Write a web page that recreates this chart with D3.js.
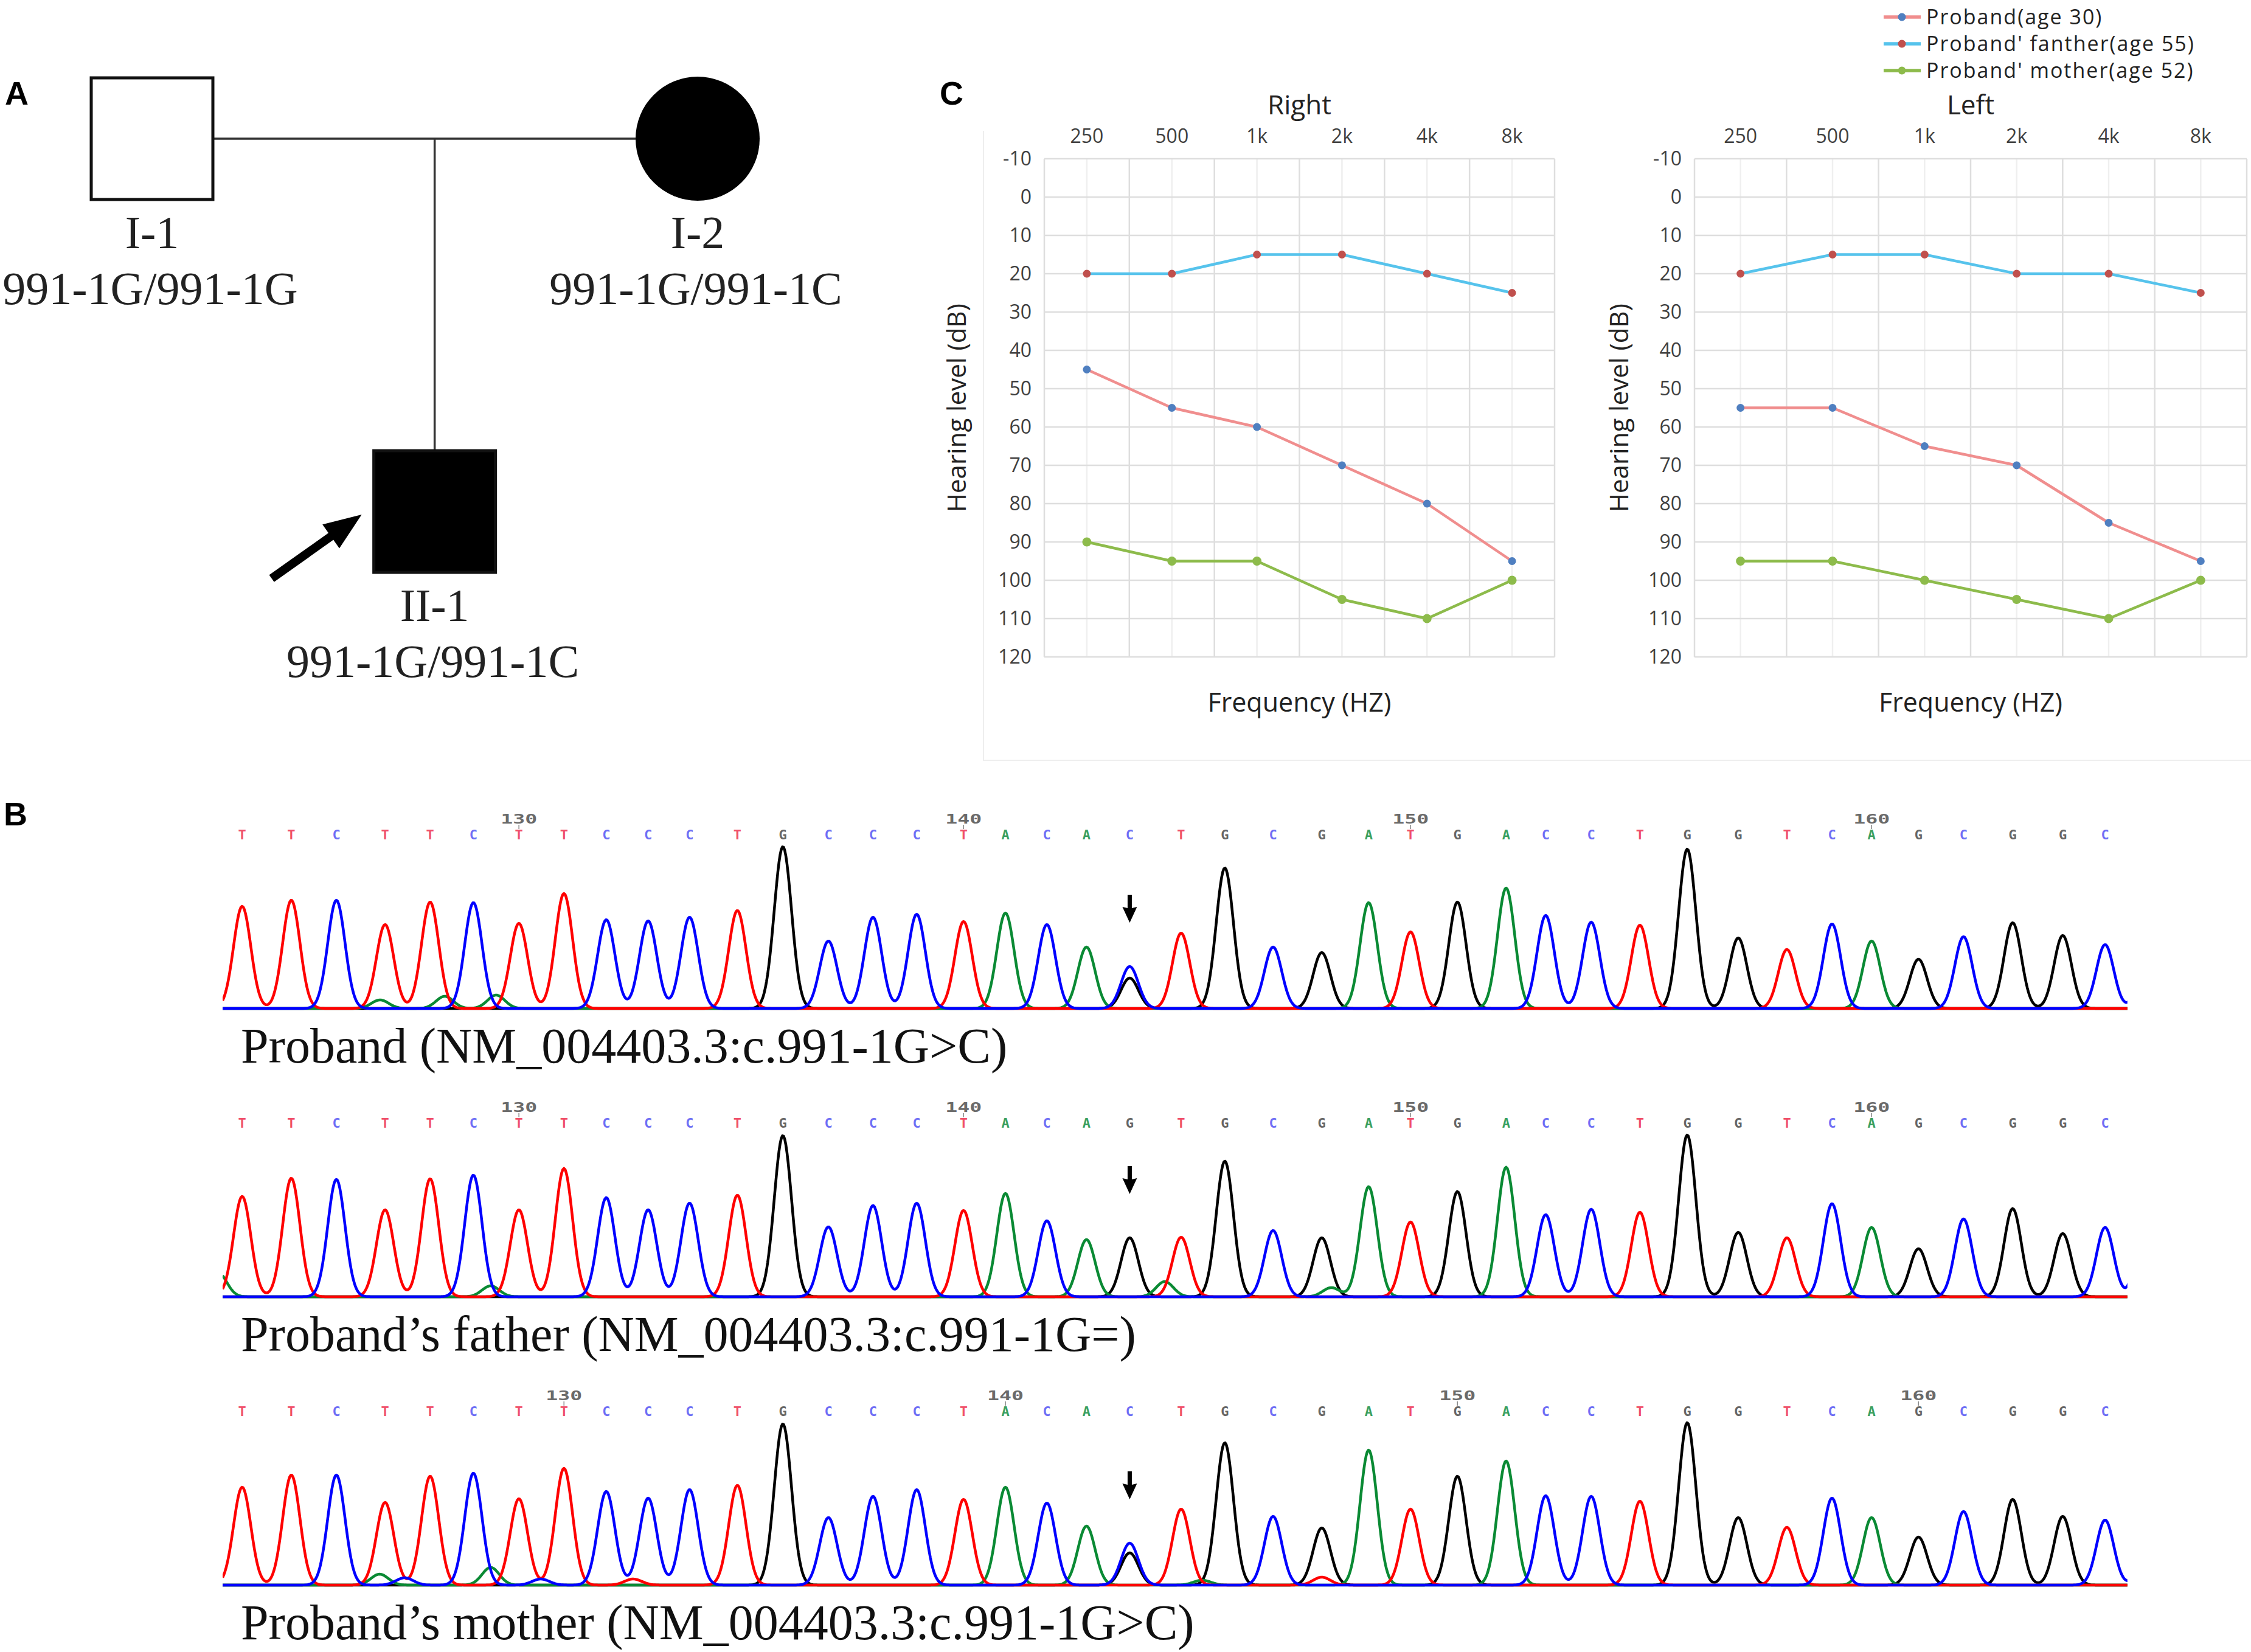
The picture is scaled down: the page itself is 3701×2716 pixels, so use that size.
<!DOCTYPE html>
<html>
<head>
<meta charset="utf-8">
<script src="https://cdn.jsdelivr.net/npm/d3@7"></script>
<style>
  body { margin: 0; background: #fff; }
</style>
</head>
<body>
<svg id="fig"></svg>
<script>
// ---------------------- data ---------------------------
// audiogram (panel C)
const freqs = ["250", "500", "1k", "2k", "4k", "8k"];
const dbTicks = d3.range(-10, 121, 10);
const seriesNames = ["Proband(age 30)", "Proband' fanther(age 55)", "Proband' mother(age 52)"];
const rightProband = [45, 55, 60, 70, 80, 95];
const rightFather  = [20, 20, 15, 15, 20, 25];
const rightMother  = [90, 95, 95, 105, 110, 100];
const leftProband  = [55, 55, 65, 70, 85, 95];
const leftFather   = [20, 15, 15, 20, 20, 25];
const leftMother   = [95, 95, 100, 105, 110, 100];

// pedigree (panel A)
const people     = ["I-1", "I-2", "II-1"];
const genotypes  = ["991-1G/991-1G", "991-1G/991-1C", "991-1G/991-1C"];
const sexes      = ["M", "F", "M"];
const affected   = [false, true, true];
const generation = [0, 0, 1];
const slot       = [0, 1, 0.518];
const probandIdx = 2;

// sanger traces (panel B)
const rowNames = [
  "Proband (NM_004403.3:c.991-1G>C)",
  "Proband\u2019s father (NM_004403.3:c.991-1G=)",
  "Proband\u2019s mother (NM_004403.3:c.991-1G>C)"
];
const calls = [
  "TTCTTCTTCCCTGCCCTACACTGCGATGACCTGGTCAGCGGC",
  "TTCTTCTTCCCTGCCCTACAGTGCGATGACCTGGTCAGCGGC",
  "TTCTTCTTCCCTGCCCTACACTGCGATGACCTGGTCAGCGGC"
];
const firstBase = [124, 124, 123];
// scan number of every called peak
const peakScan = [4.3, 15.1, 25.0, 35.7, 45.6, 55.1, 65.1, 75.0, 84.3, 93.5,
  102.6, 113.1, 123.1, 133.1, 142.9, 152.5, 162.8, 172.0, 181.1, 189.8,
  199.3, 210.6, 220.2, 230.8, 241.5, 251.8, 261.0, 271.3, 282.0, 290.7,
  300.7, 311.4, 321.8, 333.0, 343.7, 353.6, 362.3, 372.6, 382.5, 393.3,
  404.3, 413.6];
const probandHeights = [168, 178, 178, 138, 175, 174, 140, 189, 146, 144,
  150, 161, 266, 111, 150, 155, 143, 157, 138, 101,
  69, 124, 231, 101, 92, 174, 126, 175, 198, 153,
  142, 137, 262, 116, 97, 139, 111, 81, 118, 141,
  120, 105];
const fatherHeights = [165, 195, 193, 143, 194, 200, 143, 211, 163, 143,
  154, 167, 265, 115, 150, 154, 142, 170, 125, 94,
  97, 98, 223, 109, 97, 181, 123, 173, 213, 135,
  144, 139, 266, 106, 97, 153, 114, 79, 128, 145,
  104, 114];
const motherHeights = [161, 181, 181, 136, 179, 184, 142, 192, 154, 143,
  157, 164, 265, 111, 146, 157, 141, 161, 135, 97,
  69, 125, 234, 113, 94, 222, 125, 179, 204, 147,
  146, 138, 267, 111, 95, 143, 111, 79, 121, 141,
  113, 107];
// extra signal: [scan, base, height] (second allele, noise bumps, next peak)
const probandExtra = [[199.3, "G", 50], [34.6, "A", 14], [48.8, "A", 20], [60.1, "A", 22], [423, "C", 105]];
const fatherExtra  = [[-1, "A", 40], [58.9, "A", 18], [207.0, "A", 25], [243.6, "A", 15], [423, "C", 225]];
const motherExtra  = [[199.3, "G", 53], [34.5, "A", 18], [40.0, "C", 12], [58.9, "A", 29], [69.9, "C", 10],
  [90.2, "T", 10], [215.2, "A", 8], [241.5, "T", 13], [423, "C", 55]];
const markIdx = 20;

// ---------------------- setup ---------------------------
const width = 3701;
const height = 2716;
const svg = d3.select("#fig").attr("width", width).attr("height", height);
svg.append("rect").attr("width", width).attr("height", height).attr("fill", "#fff");

const sans = "Open Sans, Roboto, sans-serif";
const serif = "Liberation Serif, Times New Roman, serif";
const mono = "DejaVu Sans Mono, Liberation Mono, monospace";

// panel letters
svg.selectAll(".panel").data(["A", "B", "C"]).join("text")
  .attr("x", (d, i) => [8, 6, 1545][i])
  .attr("y", (d, i) => [172, 1357, 172][i])
  .attr("font-family", "Liberation Sans, Arial, sans-serif")
  .attr("font-weight", "bold")
  .attr("font-size", 54)
  .text(d => d);

// ---------------------- pedigree --------------------------
const pedX = d3.scaleLinear().domain([0, 1]).range([250, 1147]);
const pedY = d3.scaleLinear().domain([0, 1]).range([228, 841]);
const boxSize = 204;
const ped = svg.append("g");

// marriage line and descent line
ped.append("line")
  .attr("x1", pedX(0) + boxSize / 2).attr("x2", pedX(1) - boxSize / 2)
  .attr("y1", pedY(0)).attr("y2", pedY(0))
  .attr("stroke", "#333").attr("stroke-width", 3.5);
ped.append("line")
  .attr("x1", pedX(slot[probandIdx])).attr("x2", pedX(slot[probandIdx]))
  .attr("y1", pedY(0)).attr("y2", pedY(1) - boxSize / 2)
  .attr("stroke", "#333").attr("stroke-width", 3.5);

people.forEach((p, i) => {
  const cx = pedX(slot[i]), cy = pedY(generation[i]);
  if (sexes[i] === "M") {
    ped.append("rect")
      .attr("x", cx - boxSize / 2 + 2).attr("y", cy - boxSize / 2 + 2)
      .attr("width", boxSize - 4).attr("height", boxSize - 4)
      .attr("fill", affected[i] ? "#000" : "#fff")
      .attr("stroke", "#111").attr("stroke-width", 5);
  } else {
    ped.append("circle")
      .attr("cx", cx).attr("cy", cy).attr("r", boxSize / 2)
      .attr("fill", affected[i] ? "#000" : "#fff");
  }
  ped.append("text")
    .attr("x", cx).attr("y", cy + 180)
    .attr("text-anchor", "middle")
    .attr("font-family", serif).attr("font-size", 76).attr("fill", "#222")
    .text(p);
  ped.append("text")
    .attr("x", cx - 3).attr("y", cy + 272)
    .attr("text-anchor", "middle")
    .attr("font-family", serif).attr("font-size", 76).attr("fill", "#222")
    .text(genotypes[i]);
});

// proband arrow
{
  const cx = pedX(slot[probandIdx]), cy = pedY(generation[probandIdx]);
  const tip = [cx - boxSize / 2 - 18, cy + 5];
  const tail = [cx - 268, cy + 110];
  const dx = tip[0] - tail[0], dy = tip[1] - tail[1];
  const len = Math.hypot(dx, dy);
  const ux = dx / len, uy = dy / len, nx = -uy, ny = ux;
  const headL = 62, headW = 24, shaftW = 7;
  const hb = [tip[0] - ux * headL, tip[1] - uy * headL];
  const pts = [
    [tail[0] + nx * shaftW, tail[1] + ny * shaftW],
    [hb[0] + nx * shaftW, hb[1] + ny * shaftW],
    [hb[0] + nx * headW, hb[1] + ny * headW],
    tip,
    [hb[0] - nx * headW, hb[1] - ny * headW],
    [hb[0] - nx * shaftW, hb[1] - ny * shaftW],
    [tail[0] - nx * shaftW, tail[1] - ny * shaftW]
  ];
  ped.append("path").attr("d", "M" + pts.map(p => p.join(",")).join("L") + "Z").attr("fill", "#000");
}

// ---------------------- audiograms --------------------------
const lineColors = ["#f08e8e", "#56c3ec", "#8dbb4b"];
const markColors = ["#4f7fc0", "#c0504d", "#8dbb4b"];

// faint frame of panel C
svg.append("path")
  .attr("d", "M1617,215 L1617,1250 L3701,1250")
  .attr("fill", "none").attr("stroke", "#eeeeee").attr("stroke-width", 2);

function audiogram(title, series, left, right, ylabX) {
  const g = svg.append("g");
  const x = d3.scaleBand().domain(freqs).range([left, right]);
  const y = d3.scaleLinear().domain([-10, 120]).range([261, 1080]);
  const bw = x.bandwidth();

  g.append("rect").attr("x", left).attr("y", y(-10))
    .attr("width", right - left).attr("height", y(120) - y(-10)).attr("fill", "#fff");
  // centre gridlines (minor)
  g.selectAll(".vc").data(freqs).join("line")
    .attr("x1", d => x(d) + bw / 2).attr("x2", d => x(d) + bw / 2)
    .attr("y1", y(-10)).attr("y2", y(120))
    .attr("stroke", "#efefef").attr("stroke-width", 2.5);
  // horizontal gridlines
  g.selectAll(".hg").data(dbTicks).join("line")
    .attr("x1", left).attr("x2", right)
    .attr("y1", d => y(d)).attr("y2", d => y(d))
    .attr("stroke", "#dedede").attr("stroke-width", 2.5);
  // band boundaries
  g.selectAll(".vb").data(freqs.map(f => x(f)).concat([right])).join("line")
    .attr("x1", d => d).attr("x2", d => d)
    .attr("y1", y(-10)).attr("y2", y(120))
    .attr("stroke", "#dedede").attr("stroke-width", 2.5);

  const top = g.append("g").attr("transform", `translate(0,${y(-10)})`)
    .call(d3.axisTop(x).tickSize(0).tickPadding(26));
  top.select(".domain").remove();
  top.attr("font-family", sans).attr("font-size", 32);
  top.selectAll("text").attr("fill", "#404040");

  const yAxis = g.append("g").attr("transform", `translate(${left},0)`)
    .call(d3.axisLeft(y).tickValues(dbTicks).tickFormat(d => String(d)).tickSize(0).tickPadding(21));
  yAxis.select(".domain").remove();
  yAxis.attr("font-family", sans).attr("font-size", 32);
  yAxis.selectAll("text").attr("fill", "#404040");

  g.append("text").attr("x", (left + right) / 2).attr("y", 188)
    .attr("text-anchor", "middle").attr("font-family", sans).attr("font-size", 44)
    .attr("fill", "#222").text(title);
  g.append("text").attr("x", (left + right) / 2).attr("y", 1170)
    .attr("text-anchor", "middle").attr("font-family", sans).attr("font-size", 43)
    .attr("fill", "#222").text("Frequency (HZ)");
  g.append("text")
    .attr("transform", `translate(${ylabX},${(y(-10) + y(120)) / 2}) rotate(-90)`)
    .attr("text-anchor", "middle").attr("font-family", sans).attr("font-size", 42)
    .attr("fill", "#222").text("Hearing level (dB)");

  const line = d3.line().x((d, i) => x(freqs[i]) + bw / 2).y(d => y(d));
  series.forEach((s, k) => {
    g.append("path").attr("d", line(s)).attr("fill", "none")
      .attr("stroke", lineColors[k]).attr("stroke-width", 4.5).attr("stroke-linejoin", "round");
    g.selectAll(".m" + k).data(s).join("circle")
      .attr("cx", (d, i) => x(freqs[i]) + bw / 2).attr("cy", d => y(d))
      .attr("r", k === 2 ? 7.5 : 6.5).attr("fill", markColors[k]);
  });
}

audiogram("Right", [rightProband, rightFather, rightMother], 1717, 2556, 1588);
audiogram("Left", [leftProband, leftFather, leftMother], 2786, 3694, 2677);

// legend
const leg = svg.append("g");
seriesNames.forEach((name, k) => {
  const yy = 28 + k * 44;
  leg.append("line").attr("x1", 3097).attr("x2", 3158).attr("y1", yy).attr("y2", yy)
    .attr("stroke", lineColors[k]).attr("stroke-width", 5.5);
  leg.append("circle").attr("cx", 3127).attr("cy", yy).attr("r", 6.5).attr("fill", markColors[k]);
  leg.append("text").attr("x", 3167).attr("y", yy + 12)
    .attr("font-family", sans).attr("font-size", 34).attr("letter-spacing", 2)
    .attr("fill", "#222").text(name);
});

// ---------------------- sanger traces --------------------------
const traceColor = { G: "#000000", A: "#0a8a34", T: "#ff0000", C: "#0000ff" };
const callColor  = { G: "#666666", A: "#3aa060", T: "#f0506a", C: "#6e6ef5" };
const seqX = d3.scaleLinear().domain([0, 420]).range([366, 3509]);
const rowBase = d3.scalePoint().domain([0, 1, 2]).range([1658, 2606]);
const amp = d3.scaleLinear().domain([0, 100]).range([0, 100]);
const sigma = 1.9;
const heightsByRow = [probandHeights, fatherHeights, motherHeights];
const extraByRow = [probandExtra, fatherExtra, motherExtra];
const scanGrid = d3.range(0, 420.001, 0.25);

svg.append("defs").append("clipPath").attr("id", "traceclip")
  .append("rect").attr("x", seqX(0)).attr("y", 0)
  .attr("width", seqX(418.5) - seqX(0)).attr("height", height);

rowNames.forEach((name, r) => {
  const base = rowBase(r);
  const g = svg.append("g");
  const peaks = calls[r].split("").map((b, i) => ({ s: peakScan[i], b: b, h: heightsByRow[r][i] }))
    .concat(extraByRow[r].map(e => ({ s: e[0], b: e[1], h: e[2] })));

  const tg = g.append("g").attr("clip-path", "url(#traceclip)");
  ["G", "A", "T", "C"].forEach(b => {
    const mine = peaks.filter(p => p.b === b);
    const pts = scanGrid.map(s => [s, d3.sum(mine, p => p.h * Math.exp(-((s - p.s) ** 2) / (2 * sigma * sigma)))]);
    tg.append("path")
      .attr("d", d3.line().x(d => seqX(d[0])).y(d => base - amp(d[1]))(pts))
      .attr("fill", "none").attr("stroke", traceColor[b])
      .attr("stroke-width", 4.5).attr("stroke-linejoin", "round");
  });

  // base calls
  g.selectAll(".call").data(calls[r].split("")).join("text")
    .attr("x", (d, i) => seqX(peakScan[i])).attr("y", base - 278)
    .attr("text-anchor", "middle").attr("font-family", mono).attr("font-weight", "bold")
    .attr("font-size", 22).attr("fill", d => callColor[d]).text(d => d);

  // position numbers
  const numbered = d3.range(calls[r].length).filter(i => (firstBase[r] + i) % 10 === 0);
  g.selectAll(".num").data(numbered).join("text")
    .attr("x", i => seqX(peakScan[i])).attr("y", base - 304)
    .attr("text-anchor", "middle").attr("font-family", mono).attr("font-weight", "bold")
    .attr("font-size", 21).attr("textLength", 60).attr("lengthAdjust", "spacingAndGlyphs")
    .attr("fill", "#6a6a6a").text(i => firstBase[r] + i);
  g.selectAll(".numtick").data(numbered).join("line")
    .attr("x1", i => seqX(peakScan[i])).attr("x2", i => seqX(peakScan[i]))
    .attr("y1", base - 302).attr("y2", base - 295)
    .attr("stroke", "#888").attr("stroke-width", 1.5);

  // mutation arrow
  const mx = seqX(peakScan[markIdx]);
  const topPeak = d3.max(peaks.filter(p => p.s === peakScan[markIdx]), p => p.h);
  const tipY = base - amp(topPeak) - 72;
  g.append("path")
    .attr("d", `M${mx - 3.5},${tipY - 46} L${mx + 3.5},${tipY - 46} L${mx + 3.5},${tipY - 24} L${mx + 12},${tipY - 26} L${mx},${tipY} L${mx - 12},${tipY - 26} L${mx - 3.5},${tipY - 24} Z`)
    .attr("fill", "#000");

  // caption
  g.append("text").attr("x", 396).attr("y", base + 89)
    .attr("font-family", serif).attr("font-size", 82).attr("fill", "#111").text(name);
});
</script>
</body>
</html>
